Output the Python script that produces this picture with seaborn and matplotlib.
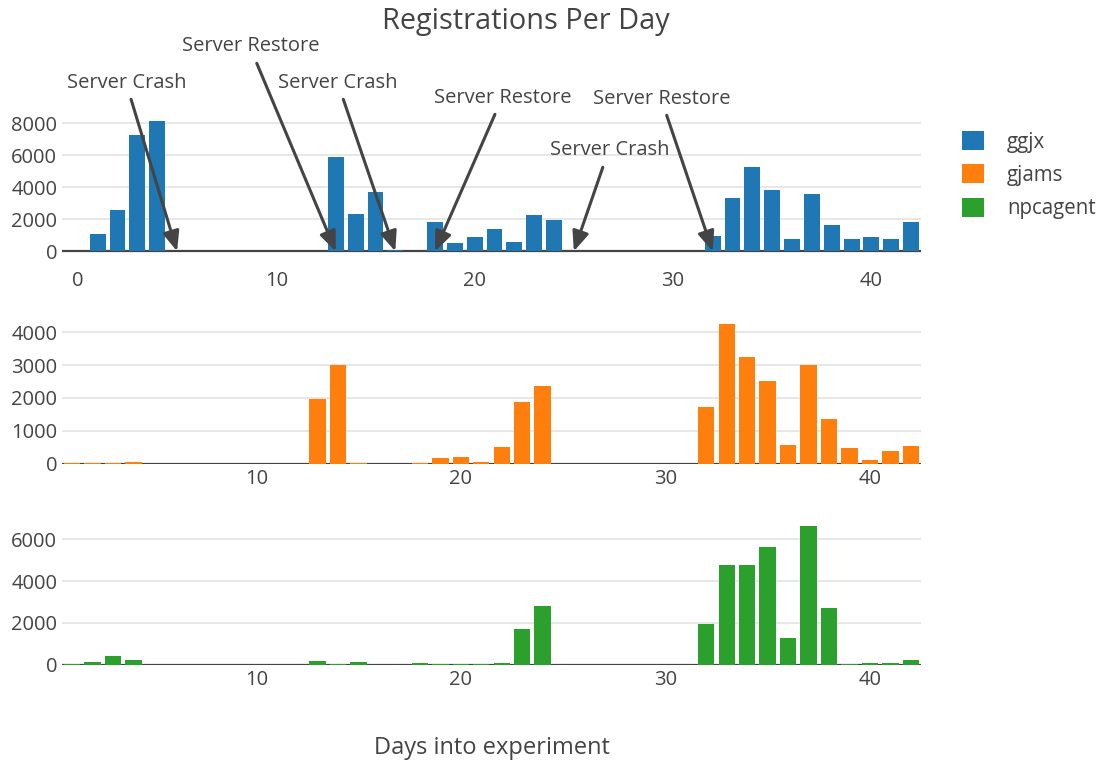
import matplotlib
matplotlib.use("Agg")
import matplotlib.pyplot as plt
import numpy as np
import pandas as pd
import seaborn as sns
from matplotlib.patches import Patch

# ---------------- data ----------------
days = list(range(1, 43))
ggjx = [1100, 2580, 7250, 8120, 0, 0, 0, 0, 0, 0, 0, 0,
        5870, 2310, 3690, 100, 0,
        1810, 500, 870, 1375, 560, 2250, 1940,
        0, 0, 0, 0, 0, 0, 0,
        940, 3310, 5250, 3810, 750, 3560, 1625, 750, 875, 750, 1810]
gjams = [25, 25, 25, 45, 0, 0, 0, 0, 0, 0, 0, 0,
         1960, 3000, 25, 0, 0,
         25, 160, 195, 45, 500, 1870, 2360,
         0, 0, 0, 0, 0, 0, 0,
         1720, 4250, 3240, 2510, 560, 3000, 1350, 470, 100, 375, 530]
npcagent = [50, 130, 415, 225, 0, 0, 0, 0, 0, 0, 0, 0,
            175, 50, 130, 0, 0,
            80, 50, 50, 50, 80, 1710, 2810,
            0, 0, 0, 0, 0, 0, 0,
            1950, 4770, 4770, 5630, 1280, 6640, 2710, 50, 80, 80, 225]
series_names = ["ggjx", "gjams", "npcagent"]
event_days = [5, 13, 16, 18, 25, 32]
event_labels = ["Server Crash", "Server Restore", "Server Crash",
                "Server Restore", "Server Crash", "Server Restore"]

# ---------------- style ----------------
sns.set_theme(style="white")
plt.rcParams["font.family"] = ["Open Sans", "DejaVu Sans"]
TXT = "#444444"
colors = ["#1f77b4", "#ff7f0e", "#2ca02c"]

W, H = 1110, 762
fig = plt.figure(figsize=(W / 100, H / 100), dpi=100)


def px_axes(left, top, right, bottom):
    return fig.add_axes([left / W, 1 - bottom / H, (right - left) / W, (bottom - top) / H])


ax_top = px_axes(62, 119.3, 921, 265.3)
ax_mid = px_axes(62, 317.5, 921, 463.5)
ax_bot = px_axes(62, 518.7, 921, 664.7)
axes = [ax_top, ax_mid, ax_bot]

df = pd.DataFrame({"day": days * 3,
                   "value": ggjx + gjams + npcagent,
                   "series": np.repeat(series_names, len(days))})

ylims = [(-875, 8250), (0, 4451), (0, 6996)]
yticks = [[0, 2000, 4000, 6000, 8000], [0, 1000, 2000, 3000, 4000], [0, 2000, 4000, 6000]]
xlims = [(-0.8, 42.5), (0.5, 42.5), (0.5, 42.5)]
xticks = [[0, 10, 20, 30, 40], [10, 20, 30, 40], [10, 20, 30, 40]]

for ax, name, col, yl, yt, xl, xt in zip(axes, series_names, colors, ylims, yticks, xlims, xticks):
    sub = df[df["series"] == name]
    sns.barplot(data=sub, x="day", y="value", color=col, native_scale=True,
                saturation=1, errorbar=None, width=0.8, linewidth=0,
                edgecolor="none", ax=ax, zorder=3)
    ax.set_xlim(*xl)
    ax.set_ylim(*yl)
    ax.set_yticks(yt)
    ax.set_xticks(xt)
    ax.set_xticklabels([str(t) for t in xt])
    ax.set_yticklabels([str(t) for t in yt])
    ax.set_xlabel("")
    ax.set_ylabel("")
    for s in ax.spines.values():
        s.set_visible(False)
    ax.yaxis.grid(True, color="#e3e3e3", lw=1.2, zorder=0)
    ax.xaxis.grid(False)
    ax.set_axisbelow(True)
    ax.axhline(0, color=TXT, lw=1.6, zorder=2)
    ax.tick_params(axis="both", length=0, labelsize=14.5, labelcolor=TXT)
    ax.tick_params(axis="x", pad=4)
    ax.tick_params(axis="y", pad=3.5)
    ax.patch.set_alpha(0)

# ---------------- annotations ----------------
text_off = [(-50, 168), (-85, 205), (-58, 168), (68, 153), (36, 101), (-51, 152)]
tail_off = [(-46, 152), (-79, 188), (-52, 152), (60, 137), (29, 84), (-46, 136)]
for d, lab, to, ta in zip(event_days, event_labels, text_off, tail_off):
    ax_top.annotate("", xy=(d, 0), xytext=ta, textcoords="offset pixels",
                    arrowprops=dict(arrowstyle="-|>,head_length=0.6,head_width=0.25",
                                    mutation_scale=20, color=TXT, lw=2.2,
                                    shrinkA=0, shrinkB=0),
                    annotation_clip=False, zorder=5)
    ax_top.annotate(lab, xy=(d, 0), xytext=to, textcoords="offset pixels",
                    ha="center", va="center", fontsize=14.5, color=TXT,
                    annotation_clip=False, zorder=5)

# ---------------- title / labels / legend ----------------
fig.text(526 / W, 1 - 21 / H, "Registrations Per Day", ha="center", va="center",
         fontsize=20.8, color=TXT)
fig.text(492 / W, 1 - 748 / H, "Days into experiment", ha="center", va="center",
         fontsize=17, color=TXT)

handles = [Patch(facecolor=c, edgecolor="none") for c in colors]
fig.legend(handles, series_names, loc="upper left",
           bbox_to_anchor=(962 / W, 1 - 131 / H), bbox_transform=fig.transFigure,
           frameon=False, fontsize=14.8, labelcolor=TXT,
           handlelength=1.05, handleheight=1.05, handletextpad=1.15,
           labelspacing=0.57, borderpad=0, borderaxespad=0)

fig.savefig("out.png", dpi=100)
